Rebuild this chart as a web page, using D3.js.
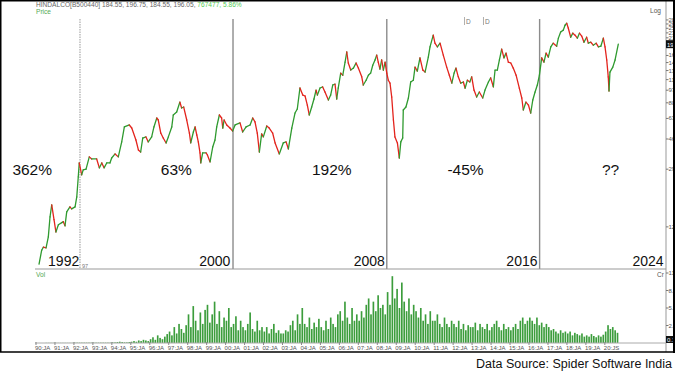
<!DOCTYPE html>
<html>
<head>
<meta charset="utf-8">
<script src="https://cdn.jsdelivr.net/npm/d3@7"></script>
<style>
  body { margin: 0; background: #fff; }
  svg { display: block; font-family: "Liberation Sans", Arial, sans-serif; }
</style>
</head>
<body>
<svg id="chart"></svg>
<script>
var width = 675, height = 375;

// weekly closes (decimal year, price)
var years = [1990.16,1990.30,1990.39,1990.53,1990.65,1990.74,1990.83,1990.95,1991.05,1991.18,1991.36,1991.44,1991.53,1991.62,1991.79,1991.88,1992.06,1992.15,1992.23,1992.28,1992.41,1992.49,1992.64,1992.81,1992.94,1993.20,1993.34,1993.47,1993.59,1993.73,1993.90,1993.99,1994.17,1994.34,1994.52,1994.66,1994.92,1995.05,1995.27,1995.40,1995.52,1995.63,1995.80,1995.92,1996.10,1996.22,1996.37,1996.45,1996.58,1996.71,1996.86,1996.98,1997.16,1997.24,1997.42,1997.59,1997.68,1997.79,1997.95,1998.09,1998.16,1998.30,1998.39,1998.48,1998.56,1998.65,1998.69,1998.79,1998.97,1999.04,1999.18,1999.32,1999.44,1999.53,1999.67,1999.79,1999.85,1999.92,2000.06,2000.23,2000.37,2000.50,2000.76,2000.90,2001.08,2001.29,2001.43,2001.55,2001.67,2001.78,2001.90,2001.99,2002.17,2002.30,2002.48,2002.61,2002.83,2003.04,2003.19,2003.31,2003.49,2003.66,2003.78,2003.92,2004.07,2004.19,2004.31,2004.41,2004.54,2004.66,2004.77,2004.84,2004.98,2005.12,2005.24,2005.42,2005.54,2005.65,2005.77,2005.86,2005.94,2006.07,2006.18,2006.30,2006.39,2006.47,2006.60,2006.74,2006.88,2007.00,2007.18,2007.26,2007.41,2007.53,2007.65,2007.76,2007.88,2007.97,2008.05,2008.14,2008.23,2008.32,2008.41,2008.50,2008.58,2008.67,2008.76,2008.85,2008.93,2009.06,2009.16,2009.24,2009.34,2009.37,2009.51,2009.64,2009.76,2009.90,2009.99,2010.11,2010.25,2010.40,2010.52,2010.69,2010.78,2010.95,2011.04,2011.17,2011.31,2011.48,2011.66,2011.80,2011.93,2012.05,2012.15,2012.27,2012.40,2012.54,2012.63,2012.75,2012.88,2012.98,2013.10,2013.24,2013.38,2013.56,2013.68,2013.86,2013.98,2014.12,2014.21,2014.33,2014.44,2014.56,2014.68,2014.79,2014.91,2015.04,2015.17,2015.32,2015.49,2015.62,2015.70,2015.84,2015.97,2016.09,2016.20,2016.32,2016.44,2016.55,2016.67,2016.79,2016.90,2017.02,2017.15,2017.28,2017.46,2017.55,2017.67,2017.81,2017.90,2017.99,2018.07,2018.20,2018.31,2018.43,2018.55,2018.66,2018.78,2018.90,2019.04,2019.13,2019.26,2019.39,2019.54,2019.66,2019.79,2019.92,2020.01,2020.10,2020.18,2020.22,2020.27,2020.42,2020.54,2020.71];
var prices = [6.8,8.4,8.8,8.7,10.3,14.0,16.8,13.4,11.1,12.4,12.8,13.0,12.2,15.1,16.3,15.8,16.3,19.0,25.8,31.9,26.6,28.7,29.0,35.0,33.9,33.9,29.6,31.9,29.6,31.9,31.9,34.4,36.6,35.0,44.0,55.3,57.0,54.4,45.3,38.9,37.7,46.7,47.5,44.0,47.5,55.3,63.4,61.5,50.4,46.7,43.3,47.5,55.3,66.4,69.5,80.9,73.9,75.0,61.5,50.4,43.3,51.2,55.3,48.9,44.0,37.2,31.9,37.2,37.2,36.0,32.4,40.7,45.3,55.3,66.4,63.4,54.4,61.5,57.0,54.4,52.0,57.0,58.8,51.2,55.3,57.0,63.4,59.7,50.4,37.7,49.7,47.5,56.1,54.4,50.4,43.3,36.6,43.3,44.0,39.5,54.4,68.4,72.8,100.3,90.1,88.8,77.3,66.4,75.0,84.8,97.2,90.1,100.3,102,94.3,83.5,90.1,105,106.5,84.8,100.3,126,122,149,174,147,132,136,147,136,119,105,113,122,126,142,154,166,149,134,154,132,149,126,113,108,87.4,61.5,47.5,43.3,34.4,44.0,46.7,71.7,75.0,86.1,110,113,138,130,159,132,128,161,188,225,199,188,199,166,138,122,108,126,136,119,108,110,100,113,110,119,97.2,87.4,94.3,86.1,97.2,110,117,102,132,132,154,182,159,171,149,147,136,122,100,86.1,71.7,80.9,77.3,68.4,83.5,94.3,105,122,159,149,171,161,188,199,190,215,236,243,262,270,251,218,232,225,215,232,222,202,218,199,202,193,199,188,190,215,188,154,119,95.8,128,138,154,196.05];

// volume in crore shares, eight readings per year from 1990
var volStart = 1990;
var volumes = [
  0,0,0,0,0.02,0.02,0.02,0.02,
  0.02,0.02,0.02,0.02,0.02,0.02,0.02,0.02,
  0.05,0.05,0.05,0.05,0.05,0.05,0.05,0.05,
  0.05,0.05,0.05,0.05,0.05,0.05,0.05,0.05,
  0.1,0.1,0.15,0.2,0.15,0.1,0.1,0.15,
  0.2,0.3,0.2,0.4,0.3,0.5,0.4,0.3,
  0.6,0.9,0.5,1.2,0.8,0.6,1.0,1.4,
  1.8,1.2,2.5,1.5,3.0,2.2,1.6,2.8,
  4.5,2.5,5.8,3.5,2.0,4.8,3.0,5.2,
  6.0,3.2,4.5,6.5,3.0,5.0,2.5,4.0,
  3.5,5.5,2.5,3.0,4.2,2.0,3.5,2.5,
  2.0,3.0,4.8,2.2,1.8,3.5,2.0,2.5,
  1.8,2.5,1.5,2.2,3.0,1.6,2.0,1.5,
  1.5,2.0,1.8,2.8,3.5,2.0,4.5,3.0,
  5.5,3.0,2.5,4.0,2.2,3.2,2.5,3.8,
  2.5,2.0,3.5,2.2,4.0,3.0,2.5,4.5,
  5.0,3.5,6.5,4.0,3.0,5.5,3.5,4.5,
  3.5,5.0,4.0,6.0,7.0,4.5,6.5,5.0,
  7.5,5.5,6.0,4.5,8.0,6.0,10.5,7.0,
  8.5,5.5,9.5,6.5,5.0,7.0,4.5,6.0,
  5.0,4.0,5.5,3.5,4.5,3.0,5.0,3.5,
  3.5,4.5,3.0,2.5,4.0,3.0,2.5,3.5,
  3.0,2.5,3.5,2.2,3.0,2.0,2.8,2.5,
  2.5,3.2,2.0,3.0,2.5,2.2,3.0,2.0,
  2.5,3.0,3.5,2.5,2.0,3.0,2.2,2.5,
  2.0,2.5,3.0,2.2,3.5,4.0,3.0,3.5,
  4.0,3.5,3.0,4.0,2.8,3.2,2.5,3.0,
  2.5,2.0,2.2,1.8,1.5,2.0,1.6,1.8,
  1.5,1.8,1.2,1.6,1.4,1.2,1.5,1.0,
  1.2,1.0,1.4,1.1,0.9,1.2,1.0,1.3,
  1.8,2.8,2.2,2.5,2.0,1.6
];

var priceTicks = [12,29,46,63,80,97,114,131,148,165,216,233,250,267,284];
var volTicks = [2.75,5.5,8.25,11];
var yearTicks = d3.range(1990, 2021);

// 8-year era dividers and their labels
var dividerYears = [1992.32, 2000.39, 2008.5, 2016.56];
var eraLabels = ["1992", "2000", "2008", "2016", "2024"];
var eraLabelYears = [1992.28, 2000.25, 2008.4, 2016.45, 2023.1];
var gains = ["362%", "63%", "192%", "-45%", "??"];
var gainYears = [1989.8, 1997.4, 2005.6, 2012.65, 2020.3];
var dividendYears = [2012.6, 2013.6];

var lastClose = 196.05;
var lastVol = "0.1";

var svg = d3.select('#chart').attr('width', width).attr('height', height);

var x = d3.scaleLinear().domain([1990, 2020.71]).range([36, 618.3]);
var y = d3.scaleLog().domain([6.4, 311]).range([268, 14]);
var yv = d3.scaleLinear().domain([0, 11]).range([343, 273]);

var left = 35, right = 666, priceBottom = 269, volBottom = 343;

// header
var header = svg.append('text').attr('x', 36).attr('y', 7).attr('font-size', 6.6).attr('fill', '#666');
header.append('tspan').text('HINDALCO[B500440]    184.55,  196.75,  184.55,  196.05,  ');
header.append('tspan').attr('fill', '#55cc55').text('767477,  5.86%');
svg.append('text').attr('x', 36).attr('y', 14).attr('font-size', 6.6).attr('fill', '#55aa55').text('Price');
svg.append('text').attr('x', 650).attr('y', 13).attr('font-size', 6.6).attr('fill', '#555').text('Log');

// era dividers
svg.selectAll('.divider')
    .data(dividerYears)
    .join('line')
    .attr('x1', d => x(d)).attr('x2', d => x(d))
    .attr('y1', 19).attr('y2', priceBottom)
    .attr('stroke', (d, i) => i == 0 ? '#999' : '#8c8c8c')
    .attr('stroke-width', (d, i) => i == 0 ? 1 : 1.4)
    .attr('stroke-dasharray', (d, i) => i == 0 ? '1.5,1' : null);

// dividend markers
svg.selectAll('.div-mark')
    .data(dividendYears)
    .join('g')
    .attr('transform', d => `translate(${x(d)},17)`)
    .each(function () {
        d3.select(this).append('line').attr('x1', 0).attr('x2', 0).attr('y1', 0).attr('y2', 8).attr('stroke', '#999').attr('stroke-width', 0.8);
        d3.select(this).append('text').attr('x', 1.5).attr('y', 6.5).attr('font-size', 6.5).attr('fill', '#777').text('D');
    });

// price line, coloured by direction
var pts = years.map((d, i) => [x(d), y(prices[i])]);
var segs = d3.pairs(pts.map((p, i) => ({p: p, v: prices[i]})));
svg.append('g')
    .selectAll('line')
    .data(segs)
    .join('line')
    .attr('x1', d => d[0].p[0]).attr('y1', d => d[0].p[1])
    .attr('x2', d => d[1].p[0]).attr('y2', d => d[1].p[1])
    .attr('stroke', d => d[1].v >= d[0].v ? '#2f9a2f' : '#e3241d')
    .attr('stroke-width', 1.3)
    .attr('stroke-linecap', 'round');

// era labels and gains
svg.selectAll('.era')
    .data(eraLabels)
    .join('text')
    .attr('x', (d, i) => x(eraLabelYears[i]))
    .attr('y', 266)
    .attr('text-anchor', 'end')
    .attr('font-size', 14)
    .attr('fill', '#111')
    .text(d => d);

svg.selectAll('.gain')
    .data(gains)
    .join('text')
    .attr('x', (d, i) => x(gainYears[i]))
    .attr('y', 175)
    .attr('text-anchor', 'middle')
    .attr('font-size', 15.5)
    .attr('fill', '#111')
    .text(d => d);

svg.append('text').attr('x', 82).attr('y', 268).attr('font-size', 5.5).attr('fill', '#777').text('97');

// panel separators and right axis line
svg.append('line').attr('x1', left).attr('x2', right).attr('y1', priceBottom).attr('y2', priceBottom).attr('stroke', '#999');
svg.append('line').attr('x1', right).attr('x2', right).attr('y1', 0).attr('y2', 352).attr('stroke', '#999');

// right price axis
var pAxis = svg.append('g').attr('font-size', 6).attr('fill', '#555');
pAxis.selectAll('line')
    .data(priceTicks)
    .join('line')
    .attr('x1', right).attr('x2', right + 2.5)
    .attr('y1', d => y(d)).attr('y2', d => y(d))
    .attr('stroke', '#777');
pAxis.selectAll('text')
    .data(priceTicks)
    .join('text')
    .attr('x', right + 2.5).attr('y', d => y(d) + 2)
    .text(d => d);
svg.append('rect').attr('x', right).attr('y', y(lastClose) - 4).attr('width', 9).attr('height', 8).attr('fill', '#111');
svg.append('text').attr('x', right + 1).attr('y', y(lastClose) + 2.5).attr('font-size', 6).attr('fill', '#fff').text(Math.round(lastClose));

// volume panel
svg.append('text').attr('x', 36).attr('y', 277).attr('font-size', 6.6).attr('fill', '#55aa55').text('Vol');
svg.append('text').attr('x', 657).attr('y', 277).attr('font-size', 6.5).attr('fill', '#555').text('Cr');

var step = 1 / 8;
var barW = x(volStart + step) - x(volStart);
svg.append('g')
    .selectAll('rect')
    .data(volumes)
    .join('rect')
    .attr('x', (d, i) => x(volStart + i * step))
    .attr('y', d => yv(d))
    .attr('width', barW * 0.7)
    .attr('height', d => yv(0) - yv(d))
    .attr('fill', '#3c9d3c');

var vAxis = svg.append('g').attr('font-size', 6).attr('fill', '#555');
vAxis.selectAll('line')
    .data(volTicks)
    .join('line')
    .attr('x1', right).attr('x2', right + 2.5)
    .attr('y1', d => yv(d)).attr('y2', d => yv(d))
    .attr('stroke', '#777');
vAxis.selectAll('text')
    .data(volTicks)
    .join('text')
    .attr('x', right + 2.5).attr('y', d => yv(d) + 2)
    .text(d => d);
svg.append('rect').attr('x', right).attr('y', 336).attr('width', 9).attr('height', 7).attr('fill', '#111');
svg.append('text').attr('x', right + 1).attr('y', 342).attr('font-size', 6).attr('fill', '#fff').text(lastVol);

// time axis
svg.append('line').attr('x1', left).attr('x2', right).attr('y1', volBottom).attr('y2', volBottom).attr('stroke', '#aaa');
svg.append('g')
    .selectAll('line')
    .data(yearTicks)
    .join('line')
    .attr('x1', d => x(d)).attr('x2', d => x(d))
    .attr('y1', volBottom - 1).attr('y2', volBottom + 2)
    .attr('stroke', '#888');
svg.append('g')
    .selectAll('text')
    .data(yearTicks)
    .join('text')
    .attr('x', d => x(d) - 1)
    .attr('y', 349.5)
    .attr('font-size', 6)
    .attr('fill', '#555')
    .text(d => d == 2020 ? '20:J' : d3.format('02')(d % 100) + ':JA');
svg.append('text').attr('x', x(2020.71) - 3).attr('y', 349.5).attr('font-size', 6).attr('fill', '#555').text('S');

// outer frame
svg.append('line').attr('x1', 0).attr('x2', width).attr('y1', 0.75).attr('y2', 0.75).attr('stroke', '#000').attr('stroke-width', 1.5);
svg.append('line').attr('x1', 0.75).attr('x2', 0.75).attr('y1', 0).attr('y2', 352).attr('stroke', '#000').attr('stroke-width', 1.5);
svg.append('line').attr('x1', 0).attr('x2', width).attr('y1', 352).attr('y2', 352).attr('stroke', '#000').attr('stroke-width', 1.5);
svg.append('rect').attr('x', 673).attr('y', 0).attr('width', 2).attr('height', 353).attr('fill', '#000');

svg.append('text')
    .attr('x', 672).attr('y', 368)
    .attr('text-anchor', 'end')
    .attr('font-size', 12.5)
    .attr('fill', '#111')
    .text('Data Source: Spider Software India');
</script>
</body>
</html>
